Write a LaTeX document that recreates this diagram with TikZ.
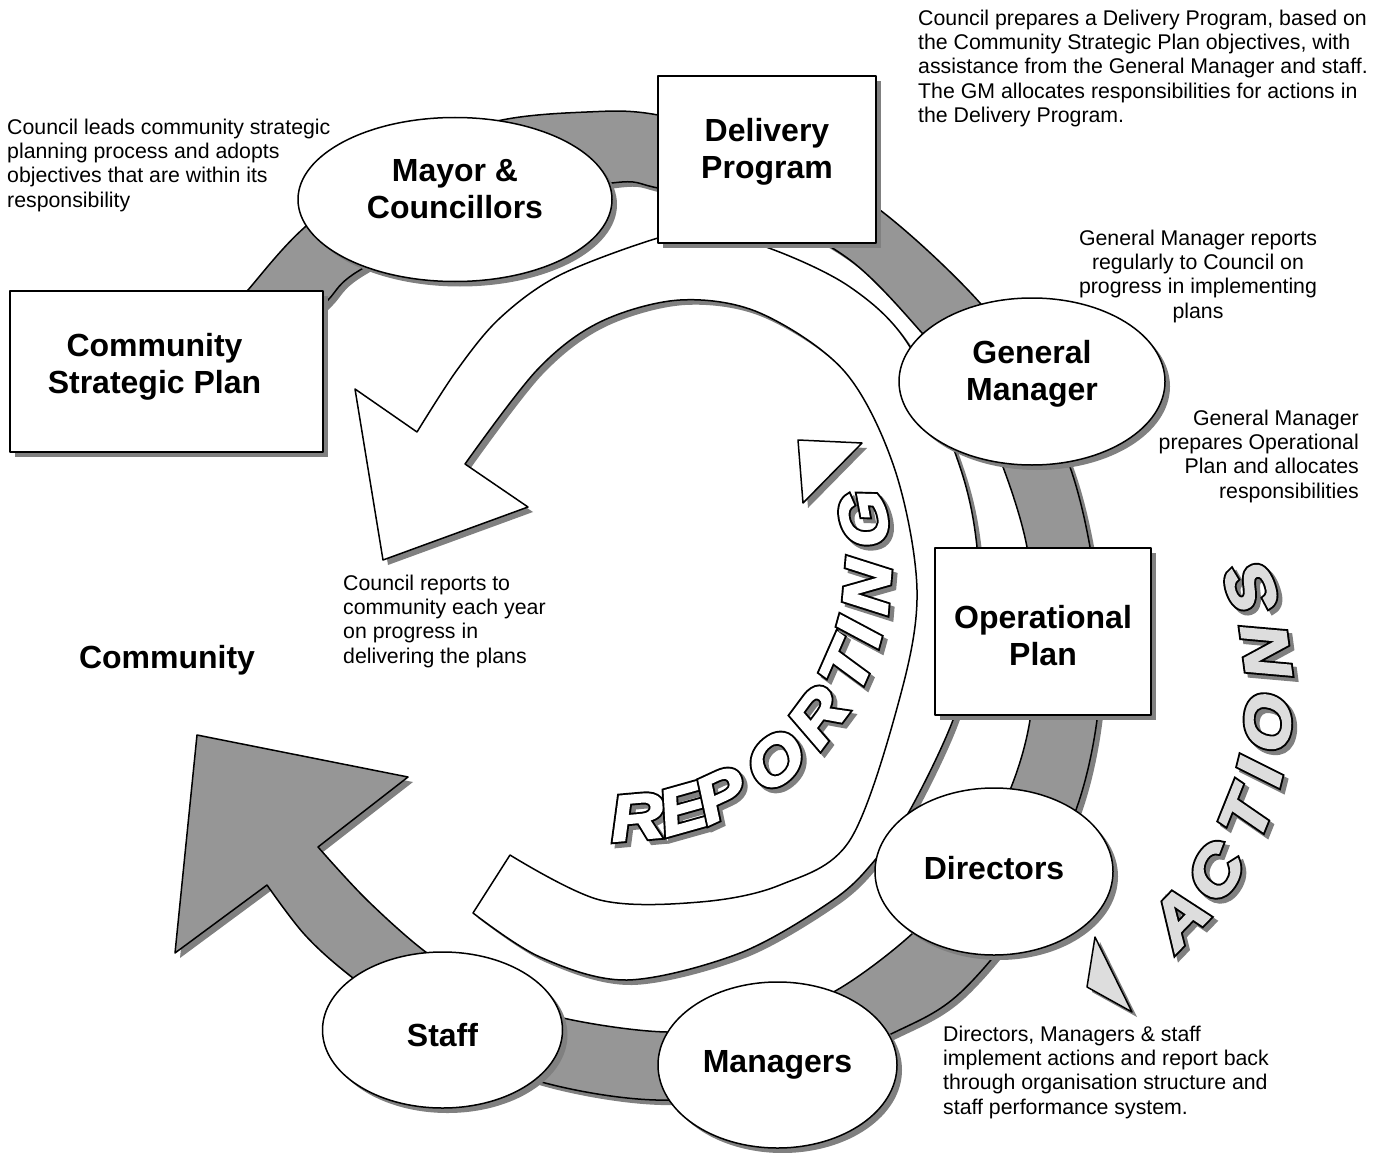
\documentclass[tikz,border=0pt]{standalone}
\usepackage{fontspec}
\setmainfont{Liberation Sans}
\newfontface\wordheavy[FakeStretch=1.15, FakeBold=9]{Liberation Sans Bold Italic}
\newfontface\wordlight[FakeStretch=1.15, FakeBold=3]{Liberation Sans Bold Italic}
\usetikzlibrary{shapes.geometric,shadows}

\definecolor{bandgrey}{RGB}{150,150,150}
\definecolor{shadowgrey}{RGB}{128,128,128}
\definecolor{actgrey}{RGB}{221,221,221}

\newcommand{\notefont}{\fontsize{21.3}{24.3}\selectfont}
\newcommand{\boxfont}{\bfseries\fontsize{32}{37}\selectfont}

\tikzset{
	dropsh/.style={drop shadow={shadow xshift=5pt, shadow yshift=-5pt, fill=shadowgrey, opacity=1}},
	blackline/.style={draw=black, line width=1.5pt, line join=round},
	cycleband/.style={blackline, fill=bandgrey, dropsh},
	reportband/.style={blackline, fill=white, dropsh},
	planbox/.style={rectangle, blackline, fill=white, dropsh},
	roleell/.style={ellipse, blackline, fill=white, dropsh},
	boxlabel/.style={font=\boxfont, align=center, inner sep=0pt},
	notetext/.style={font=\notefont, inner sep=0pt},
	heavyletter/.style={font=\wordheavy\fontsize{64}{66}\selectfont, inner sep=0pt},
	lightletter/.style={font=\wordlight\fontsize{64}{66}\selectfont, inner sep=0pt}
}

\begin{document}
\begin{tikzpicture}[x=1pt, y=-1pt]
	\useasboundingbox (0,0) rectangle (1384,1153);

	% grey actions cycle
	\draw[cycleband] plot[smooth, tension=0.55] coordinates {
			(212,335) (248,290) (305,227) (395,160) (493,122) (587,112) (658,115)
			(775,147) (880,210) (980,303) (1032,382) (1070,467) (1090,547)
			(1100,635) (1097,720) (1077,807) (1032,905) (960,993) (893,1033)
			(783,1078) (670,1100) (553,1085) (445,1045) (353,978) (305,935) (267,885)}
		-- (175,953) -- (197,735) -- (408,777)
		-- plot[smooth, tension=0.55] coordinates {
			(318,847) (367,900) (427,953) (490,992) (563,1018) (667,1032)
			(760,1022) (837,990) (913,933) (970,868) (1010,790) (1030,720)
			(1035,635) (1027,547) (1003,467) (970,395) (922,333) (850,260)
			(760,212) (658,188) (612,183) (478,210) (360,270) (328,300) (300,330)}
		-- cycle;

	% white reporting arrow
	\draw[reportband] plot[smooth, tension=0.55] coordinates {
			(473,913) (540,957) (627,980) (740,953) (833,900) (875,860) (910,810)
			(953,720) (978,630) (977,547) (960,467) (910,347) (850,287) (766,247)
			(700,234) (658,238) (560,275) (500,318) (457,370) (417,432)}
		-- (355,389) -- (383,560) -- (528,507)
		-- plot[smooth, tension=0.55] coordinates {
			(465,464) (537,370) (600,322) (680,300) (760,313) (845,372) (895,470)
			(917,590) (900,697) (850,840) (780,885) (700,902) (600,900) (510,855)}
		-- cycle;

	% small arrow tips
	\draw[reportband] (798,440) -- (862,443) -- (803,503) -- cycle;
	\draw[blackline, fill=actgrey, dropsh] (1095,937) -- (1087,987) -- (1132,1012) -- cycle;

	% curved words: shadow, black rim, then the face
	\foreach \ch/\a [count=\i] in {R/-85,E/-74.3,P/-65.3,O/-50.7,R/-36.7,T/-23.7,I/-15.5,N/-5,G/10.4}{
		\path (615,565) ++({-(\a)}:253) ++(4,4)
			node[heavyletter, text=shadowgrey, rotate=\a+90] (repsh\i) {\ch};
		\path (615,565) ++({-(\a)}:253)
			node[heavyletter, text=black, rotate=\a+90] (reprim\i) {\ch};
		\path (615,565) ++({-(\a)}:253)
			node[lightletter, text=white, rotate=\a+90] (rep\i) {\ch};
	}
	\foreach \ch/\a [count=\i] in {A/-44,C/-33.6,T/-21.9,I/-14,O/-5,N/7.6,S/19.4}{
		\path (949,695) ++({-(\a)}:320) ++(4,4)
			node[heavyletter, text=shadowgrey, rotate=\a+90] (actsh\i) {\ch};
		\path (949,695) ++({-(\a)}:320)
			node[heavyletter, text=black, rotate=\a+90] (actrim\i) {\ch};
		\path (949,695) ++({-(\a)}:320)
			node[lightletter, text=actgrey, rotate=\a+90] (act\i) {\ch};
	}

	% plans and roles
	\node[planbox, minimum width=313pt, minimum height=161pt] (csp) at (166.5,371.5) {};
	\node[planbox, minimum width=218pt, minimum height=167pt] (dp) at (767,159.5) {};
	\node[planbox, minimum width=216pt, minimum height=167pt] (op) at (1043,631.5) {};
	\node[roleell, minimum width=314pt, minimum height=164pt] (mayor) at (455,199.5) {};
	\node[roleell, minimum width=266pt, minimum height=167pt] (gm) at (1032,381.5) {};
	\node[roleell, minimum width=238pt, minimum height=167pt] (dir) at (994,871.5) {};
	\node[roleell, minimum width=239pt, minimum height=166pt] (mgr) at (777.5,1065) {};
	\node[roleell, minimum width=240pt, minimum height=156pt] (staff) at (442.5,1030) {};

	\node[boxlabel] (csptext) at ([xshift=-12pt, yshift=5pt]csp.center) {Community\\Strategic Plan};
	\node[boxlabel] (dptext) at ([yshift=8pt]dp.center) {Delivery\\Program};
	\node[boxlabel] (optext) at ([yshift=-4pt]op.center) {Operational\\Plan};
	\node[boxlabel] (mayortext) at ([yshift=10pt]mayor.center) {Mayor \&\\Councillors};
	\node[boxlabel] (gmtext) at ([yshift=8pt]gm.center) {General\\Manager};
	\node[boxlabel] (dirtext) at ([yshift=3pt]dir.center) {Directors};
	\node[boxlabel] (mgrtext) at (mgr.center) {Managers};
	\node[boxlabel] (stafftext) at ([yshift=-5pt]staff.center) {Staff};
	\node[boxlabel] (community) at (167,660) {Community};

	% notes
	\node[notetext, anchor=north west, align=left] (leadnote) at (7,118.5)
		{Council leads community strategic\\planning process and adopts\\objectives that are within its\\responsibility};
	\node[notetext, anchor=north west, align=left] (dpnote) at (918,9.5)
		{Council prepares a Delivery Program, based on\\the Community Strategic Plan objectives, with\\assistance from the General Manager and staff.\\The GM allocates responsibilities for actions in\\the Delivery Program.};
	\node[notetext, anchor=north, align=center] (gmnote) at (1198,229.5)
		{General Manager reports\\regularly to Council on\\progress in implementing\\plans};
	\node[notetext, anchor=north east, align=right] (opnote) at (1359,409.5)
		{General Manager\\prepares Operational\\Plan and allocates\\responsibilities};
	\node[notetext, anchor=north west, align=left] (repnote) at (343,574.5)
		{Council reports to\\community each year\\on progress in\\delivering the plans};
	\node[notetext, anchor=north west, align=left] (actnote) at (943,1025.5)
		{Directors, Managers \& staff\\implement actions and report back\\through organisation structure and\\staff performance system.};
\end{tikzpicture}
\end{document}
